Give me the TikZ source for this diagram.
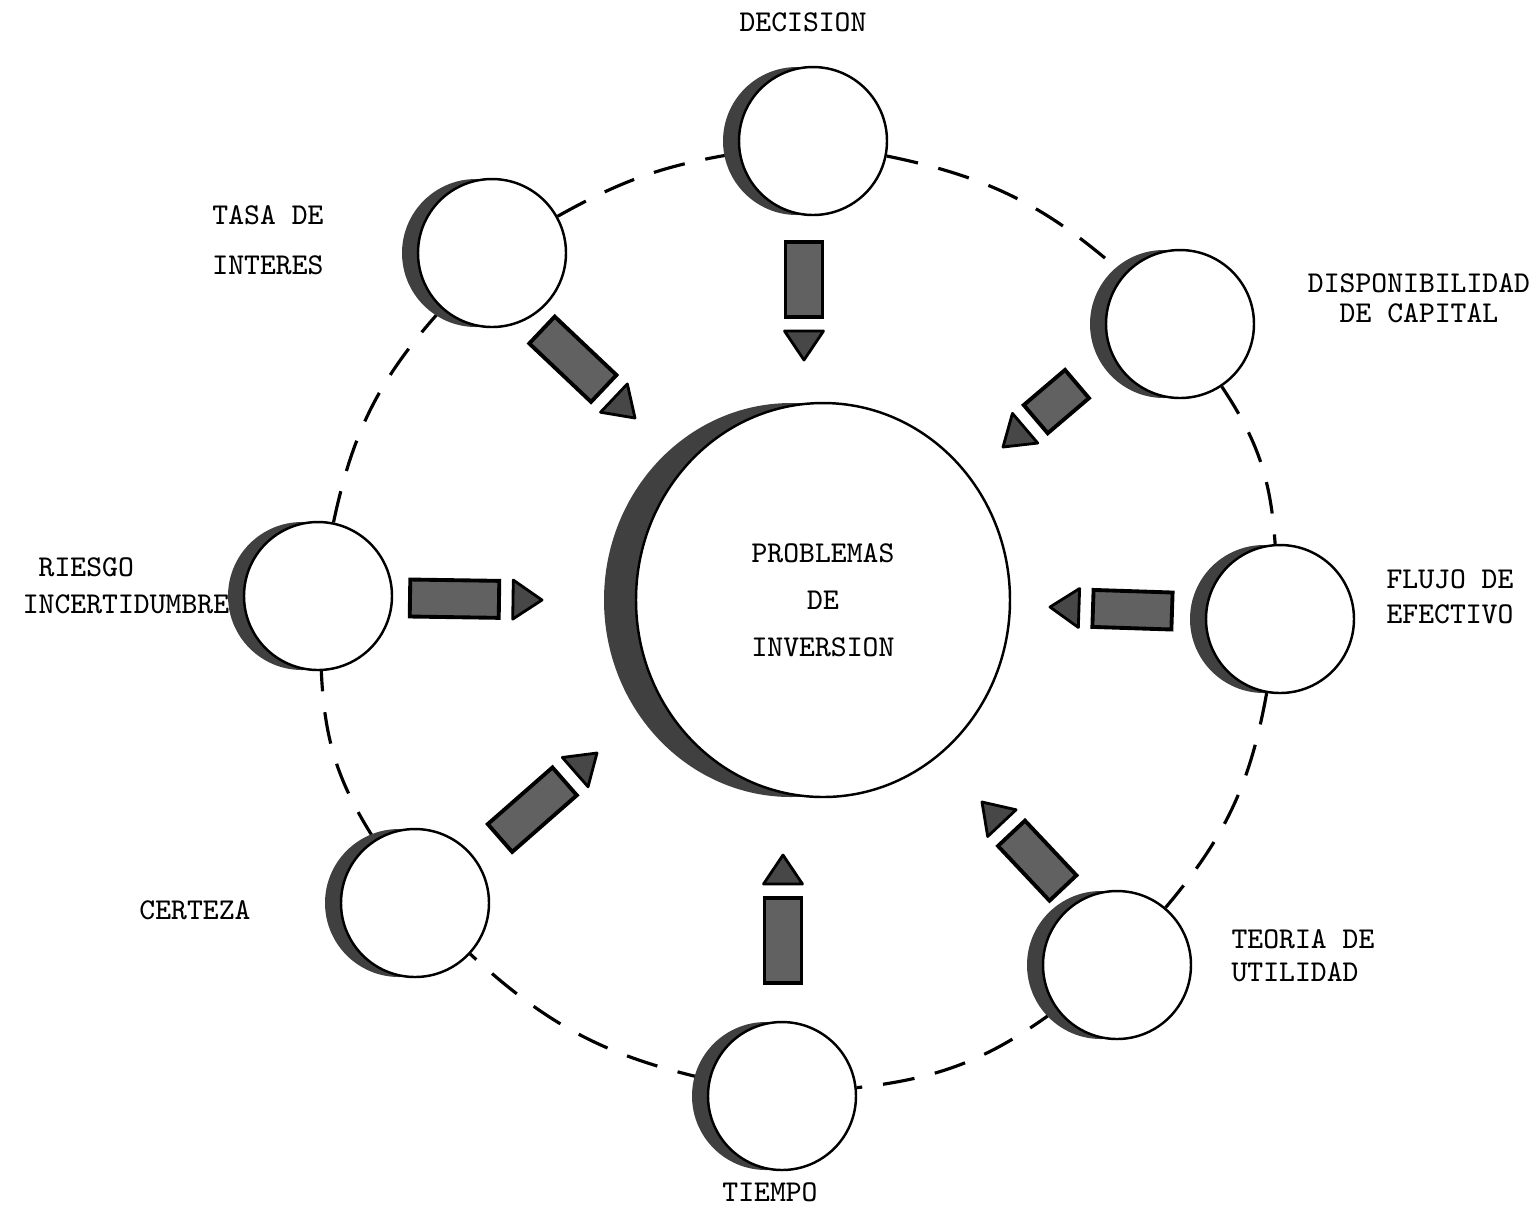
\documentclass[tikz,border=0pt]{standalone}
\usepackage{tikz}
\usetikzlibrary{calc,shapes.geometric,shadows,backgrounds}

% flecha: barra + punta, de #1 (cola) a #2 (punta)
\newcommand{\flecha}[2]{%
\coordinate (fr) at ($(#2)!4.3mm!(#1)$);
\coordinate (ba) at ($(#2)!2.9mm!(#1)$);
\filldraw[barra] ($(#1)!1.85mm!90:(fr)$) -- ($(fr)!1.85mm!-90:(#1)$)
  -- ($(fr)!1.85mm!90:(#1)$) -- ($(#1)!1.85mm!-90:(fr)$) -- cycle;
\filldraw[punta] ($(ba)!1.95mm!90:(#2)$) -- (#2) -- ($(ba)!1.95mm!-90:(#2)$) -- cycle;
}

\begin{document}
\begin{tikzpicture}[x=0.1mm,y=-0.1mm,
factor/.style={circle, draw, line width=0.7pt, fill=white, minimum size=14.8mm, inner sep=0pt,
  drop shadow={shadow xshift=-1.6mm, shadow yshift=0mm, fill=black!75, opacity=1}},
centro/.style={ellipse, draw, line width=0.7pt, fill=white, minimum width=37.4mm, minimum height=39.4mm,
  inner sep=0pt, align=center, font=\ttfamily\fontsize{8.6}{10}\selectfont,
  drop shadow={shadow xshift=-3.2mm, shadow yshift=0mm, fill=black!75, opacity=1}},
anillo/.style={line width=0.9pt, dash pattern=on 3.2mm off 2.1mm},
barra/.style={draw=black, line width=1.1pt, fill=black!62},
punta/.style={draw=black, line width=0.8pt, fill=black!72, line join=round},
etiqueta/.style={font=\ttfamily\fontsize{8.6}{10}\selectfont, inner sep=0pt}]
\useasboundingbox (0,0) rectangle (1539,1207);

\node[centro] (prob) at (823,600) {PROBLEMAS\\[3.4pt]DE\\[3.4pt]INVERSION};

\node[factor] (dec) at (813,141) {};
\node[factor] (disp) at (1180,324) {};
\node[factor] (flujo) at (1280,619) {};
\node[factor] (teo) at (1117,965) {};
\node[factor] (tiem) at (782,1096) {};
\node[factor] (cert) at (415,903) {};
\node[factor] (riesgo) at (318,596) {};
\node[factor] (tasa) at (492,253) {};

\begin{pgfonlayer}{background}
\draw[anillo] (dec) to[bend left=15] (disp);
\draw[anillo] (disp) to[bend left=15] (flujo);
\draw[anillo] (flujo) to[bend left=15] (teo);
\draw[anillo] (teo) to[bend left=15] (tiem);
\draw[anillo] (tiem) to[bend left=15] (cert);
\draw[anillo] (cert) to[bend left=15] (riesgo);
\draw[anillo] (riesgo) to[bend left=15] (tasa);
\draw[anillo] (tasa) to[bend left=10] (dec);
\end{pgfonlayer}

\coordinate (dec1) at (804,242);   \coordinate (dec2) at (804,360);
\coordinate (tasa1) at (542,330);  \coordinate (tasa2) at (635,418);
\coordinate (disp1) at (1077,384); \coordinate (disp2) at (1003,447);
\coordinate (riesgo1) at (410,598); \coordinate (riesgo2) at (542,600);
\coordinate (flujo1) at (1172,611); \coordinate (flujo2) at (1050,607);
\coordinate (cert1) at (500,838);  \coordinate (cert2) at (597,753);
\coordinate (tiem1) at (783,983);  \coordinate (tiem2) at (783,855);
\coordinate (teo1) at (1063,888);  \coordinate (teo2) at (982,802);
\foreach \f in {dec,tasa,disp,riesgo,flujo,cert,tiem,teo}
  \flecha{\f1}{\f2};

\node[etiqueta] (l-dec) at (803,22) {DECISION};
\node[etiqueta, align=left] (l-tasa) at (268,240) {TASA DE\\[4.2pt]INTERES};
\node[etiqueta, align=center] (l-disp) at (1419,298) {DISPONIBILIDAD\\[-1.5pt]DE CAPITAL};
\node[etiqueta, align=left] (l-riesgo) at (126,586) {~RIESGO\\[0.5pt]INCERTIDUMBRE};
\node[etiqueta, align=center] (l-flujo) at (1450,597) {FLUJO DE\\EFECTIVO};
\node[etiqueta] (l-cert) at (195,910) {CERTEZA};
\node[etiqueta, align=left] (l-teo) at (1303,956) {TEORIA DE\\[-0.6pt]UTILIDAD};
\node[etiqueta] (l-tiem) at (770,1192) {TIEMPO};
\end{tikzpicture}
\end{document}
